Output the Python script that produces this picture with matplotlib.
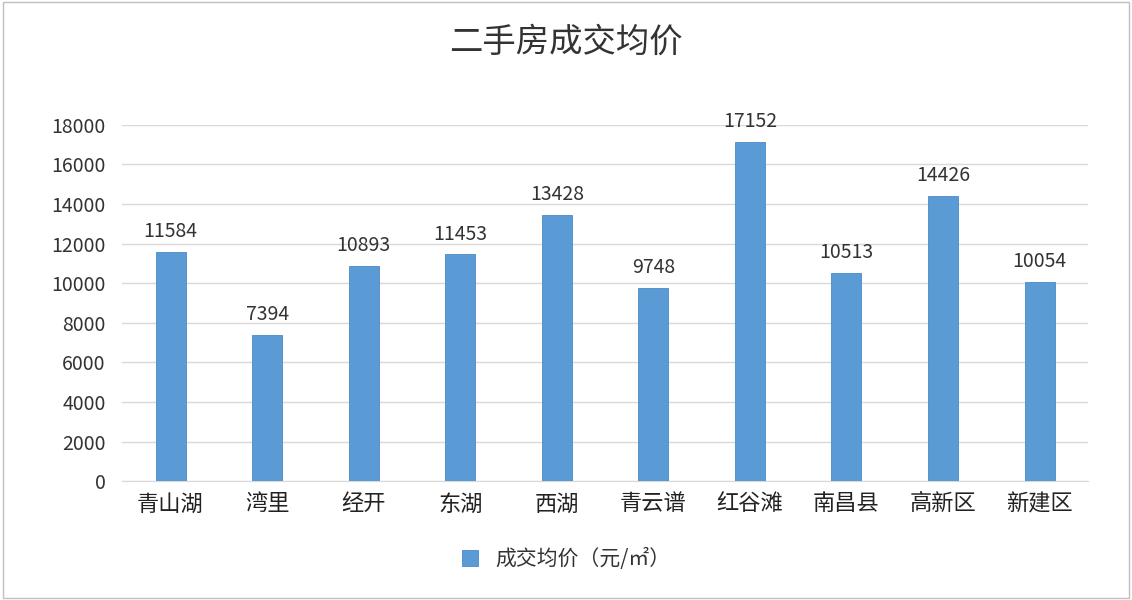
import matplotlib.pyplot as plt

plt.rcParams['font.family'] = ['Noto Sans CJK SC', 'DejaVu Sans']

# 数据
区域 = ['青山湖', '湾里', '经开', '东湖', '西湖', '青云谱', '红谷滩', '南昌县', '高新区', '新建区']
均价 = [11584, 7394, 10893, 11453, 13428, 9748, 17152, 10513, 14426, 10054]
yticks = list(range(0, 18001, 2000))

fig = plt.figure(figsize=(11.32, 6), dpi=100)
ax = fig.add_axes([0.108, 0.198, 0.853, 0.594])

color = '#5b9bd5'
x = range(len(区域))
bars = ax.bar(x, 均价, width=0.31, color=color, edgecolor='#4a8ac4', linewidth=0.6,
              label='成交均价（元/㎡）', zorder=3)
for xi, v in zip(x, 均价):
    ax.text(xi, v + 500, str(v), ha='center', va='bottom', fontsize=14, color='#333333')

ax.set_xlim(-0.5, len(区域) - 0.5)
ax.set_ylim(0, 18000)
ax.set_yticks(yticks)
ax.set_xticks(list(x))
ax.set_xticklabels(区域, fontsize=16, color='#222222')
ax.tick_params(axis='y', labelsize=14, colors='#333333', length=0, pad=12)
ax.tick_params(axis='x', length=0, pad=8)
ax.grid(axis='y', color='#d9d9d9', linewidth=1, zorder=0)
for s in ['top', 'right', 'left']:
    ax.spines[s].set_visible(False)
ax.spines['bottom'].set_color('#d9d9d9')

fig.text(0.5, 0.93, '二手房成交均价', ha='center', va='center', fontsize=24, color='#333333')
fig.legend(loc='center', bbox_to_anchor=(0.5, 0.068), frameon=False, fontsize=15,
           handlelength=0.8, handleheight=0.8, labelcolor='#333333')

fig.patches.append(plt.Rectangle((0.003, 0.003), 0.994, 0.994, transform=fig.transFigure,
                                 fill=False, edgecolor='#bfbfbf', linewidth=1))
fig.savefig('out.png', dpi=100)
